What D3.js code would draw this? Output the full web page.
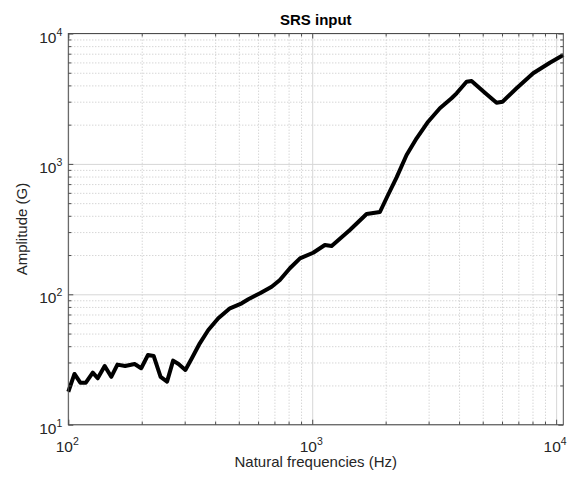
<!DOCTYPE html>
<html>
<head>
<meta charset="utf-8">
<script src="https://cdn.jsdelivr.net/npm/d3@7"></script>
<style>
  body { margin: 0; background: #fff; }
  text { font-family: "Liberation Sans", Arial, Helvetica, sans-serif; fill: #262626; }
</style>
</head>
<body>
<div class="chart"></div>
<script>
// SRS input curve
var freqs = [100, 106, 112, 118, 126, 132, 141, 150, 159, 171, 187, 199, 212, 224, 239, 254, 269, 283, 302, 321,
             346, 375, 412, 460, 514, 547, 611, 682, 737, 810, 891, 1009, 1076, 1127, 1201, 1427, 1671, 1895,
             2029, 2218, 2437, 2679, 2987, 3337, 3726, 3908, 4293, 4500, 5104, 5699, 6030, 6883, 8050, 9425, 10700];
var amps = [17.9, 24.5, 21, 21, 25.1, 22.7, 28.2, 23.3, 28.9, 28.2, 29.2, 27.1, 34.2, 33.6, 23.3, 21.4, 31, 29.2, 26.3, 32.3,
            42.1, 53.2, 65.5, 78.1, 85.3, 91.6, 101.8, 114.4, 128.8, 158.3, 188.8, 208.4, 225.3, 238.8, 234.6, 311, 412.8, 427.6,
            560, 789, 1170, 1571, 2107, 2670, 3186, 3478, 4270, 4323, 3516, 2946, 2999, 3800, 4953, 5970, 6840];

var xDomain = [100, 10700];
var yDomain = [10, 10000];
var xMajor = [100, 1000, 10000];
var yMajor = [10, 100, 1000, 10000];

var width = 568, height = 479;
var pLeft = 68.3, pRight = 563.3, pTop = 33.5, pBottom = 424.7;

var svg = d3.select('.chart')
    .append('svg')
    .attr('width', width)
    .attr('height', height);

var x = d3.scaleLog().domain(xDomain).range([pLeft, pRight]);
var y = d3.scaleLog().domain(yDomain).range([pBottom, pTop]);

var xMinor = x.ticks().filter(function(d){ return xMajor.indexOf(d) < 0; });
var yMinor = y.ticks().filter(function(d){ return yMajor.indexOf(d) < 0; });

// minor grid (dotted)
svg.append('g')
    .attr('transform', 'translate(0,' + pBottom + ')')
    .call(d3.axisBottom(x).tickValues(xMinor).tickSize(-(pBottom - pTop)).tickFormat(''))
    .call(function(g){ g.select('.domain').remove(); })
    .selectAll('line')
    .attr('stroke', '#c4c4c4')
    .attr('stroke-dasharray', '1,2');

svg.append('g')
    .attr('transform', 'translate(' + pLeft + ',0)')
    .call(d3.axisLeft(y).tickValues(yMinor).tickSize(-(pRight - pLeft)).tickFormat(''))
    .call(function(g){ g.select('.domain').remove(); })
    .selectAll('line')
    .attr('stroke', '#c4c4c4')
    .attr('stroke-dasharray', '1,2');

// major grid (solid)
svg.append('g')
    .attr('transform', 'translate(0,' + pBottom + ')')
    .call(d3.axisBottom(x).tickValues(xMajor).tickSize(-(pBottom - pTop)).tickFormat(''))
    .call(function(g){ g.select('.domain').remove(); })
    .selectAll('line')
    .attr('stroke', '#d6d6d6');

svg.append('g')
    .attr('transform', 'translate(' + pLeft + ',0)')
    .call(d3.axisLeft(y).tickValues(yMajor).tickSize(-(pRight - pLeft)).tickFormat(''))
    .call(function(g){ g.select('.domain').remove(); })
    .selectAll('line')
    .attr('stroke', '#d6d6d6');

// curve
var line = d3.line()
    .x(function(d){ return x(d[0]); })
    .y(function(d){ return y(d[1]); });

svg.append('path')
    .datum(d3.zip(freqs, amps))
    .attr('d', line)
    .attr('fill', 'none')
    .attr('stroke', '#000')
    .attr('stroke-width', 4)
    .attr('stroke-linejoin', 'round')
    .attr('stroke-linecap', 'butt');

// tick marks on all four sides, pointing inward
function ticks(axis, pos, vals, len){
    var g = svg.append('g').attr('transform', pos)
        .call(axis.tickValues(vals).tickSizeInner(len).tickSizeOuter(0).tickFormat(''));
    g.select('.domain').remove();
    g.selectAll('line').attr('stroke', '#4d4d4d');
}
ticks(d3.axisBottom(x), 'translate(0,' + pBottom + ')', xMajor, -5);
ticks(d3.axisBottom(x), 'translate(0,' + pBottom + ')', xMinor, -3);
ticks(d3.axisTop(x), 'translate(0,' + pTop + ')', xMajor, -5);
ticks(d3.axisTop(x), 'translate(0,' + pTop + ')', xMinor, -3);
ticks(d3.axisLeft(y), 'translate(' + pLeft + ',0)', yMajor, -5);
ticks(d3.axisLeft(y), 'translate(' + pLeft + ',0)', yMinor, -3);
ticks(d3.axisRight(y), 'translate(' + pRight + ',0)', yMajor, -5);
ticks(d3.axisRight(y), 'translate(' + pRight + ',0)', yMinor, -3);

// box
svg.append('rect')
    .attr('x', pLeft).attr('y', pTop)
    .attr('width', pRight - pLeft).attr('height', pBottom - pTop)
    .attr('fill', 'none')
    .attr('stroke', '#4d4d4d')
    .attr('stroke-width', 1);

// tick labels 10^n
xMajor.forEach(function(v){
    var t = svg.append('text')
        .attr('x', x(v) - 1)
        .attr('y', pBottom + 27)
        .attr('text-anchor', 'middle')
        .style('font-size', '15.5px');
    t.append('tspan').text('10');
    t.append('tspan').attr('dy', -7).style('font-size', '10.5px').text(Math.round(Math.log10(v)));
});

yMajor.forEach(function(v){
    var t = svg.append('text')
        .attr('x', pLeft - 6)
        .attr('y', y(v) + 9)
        .attr('text-anchor', 'end')
        .style('font-size', '15.5px');
    t.append('tspan').text('10');
    t.append('tspan').attr('dy', -7).style('font-size', '10.5px').text(Math.round(Math.log10(v)));
});

// title and axis labels
svg.append('text')
    .attr('x', (pLeft + pRight) / 2)
    .attr('y', 25)
    .attr('text-anchor', 'middle')
    .style('font-size', '15px')
    .style('font-weight', 'bold')
    .style('fill', '#000')
    .text('SRS input');

svg.append('text')
    .attr('x', (pLeft + pRight) / 2)
    .attr('y', 467)
    .attr('text-anchor', 'middle')
    .style('font-size', '15px')
    .text('Natural frequencies (Hz)');

svg.append('text')
    .attr('transform', 'translate(27,' + ((pTop + pBottom) / 2) + ') rotate(-90)')
    .attr('text-anchor', 'middle')
    .style('font-size', '15px')
    .text('Amplitude (G)');
</script>
</body>
</html>
